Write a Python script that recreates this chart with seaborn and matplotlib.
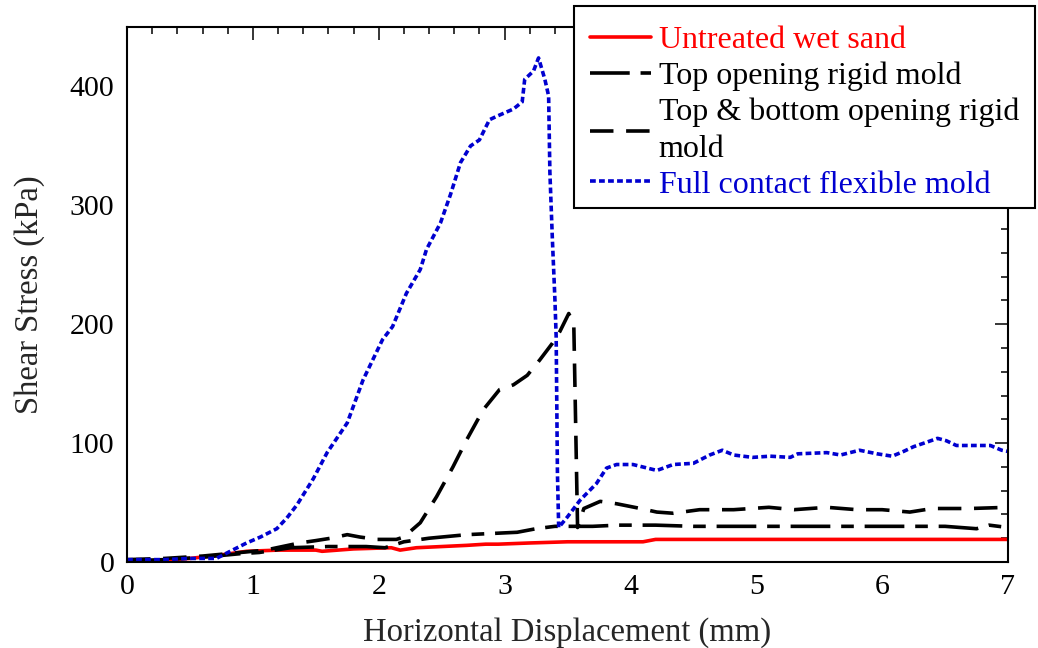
import matplotlib
matplotlib.use("Agg")
import matplotlib.pyplot as plt
import seaborn as sns
from matplotlib.ticker import MultipleLocator
from matplotlib.lines import Line2D
from matplotlib.patches import Rectangle

# ---------------- data ----------------
untreated_x = [0, 0.2, 0.5, 0.75, 0.95, 1.2, 1.5, 1.55, 1.8, 2.1, 2.17, 2.3, 2.5, 2.7,
               2.85, 2.95, 3.2, 3.5, 3.8, 4.1, 4.2, 5.0, 6.0, 7.0]
untreated_y = [0, 1, 3, 6, 9, 10, 10, 9, 11, 12, 10, 12, 13, 14,
               15, 15, 16, 17, 17, 17, 19, 19, 19, 19]

top_x = [0, 0.3, 0.6, 0.9, 1.05, 1.3, 1.6, 1.9, 2.05, 2.2, 2.4, 2.7, 2.9, 3.1, 3.25,
         3.4, 3.7, 3.9, 4.2, 4.5, 5.0, 5.5, 6.0, 6.5, 6.75, 6.85, 7.0]
top_y = [1, 2, 4, 7, 8, 12, 13, 13, 12, 17, 20, 23, 24, 25, 28,
         30, 30, 31, 31, 30, 30, 30, 30, 30, 28, 31, 29]

topbot_x = [0, 0.3, 0.6, 0.9, 1.1, 1.37, 1.5, 1.62, 1.75, 1.85, 1.99, 2.14, 2.2, 2.33,
            2.46, 2.59, 2.70, 2.83, 2.96, 3.07, 3.18, 3.28, 3.38, 3.44, 3.51, 3.55,
            3.58, 3.63, 3.76, 3.89, 4.08, 4.21, 4.34, 4.55, 4.82, 5.1, 5.3, 5.56,
            5.8, 6.0, 6.22, 6.4, 6.7, 7.0]
topbot_y = [2, 3, 5, 8, 10, 16, 18, 20, 23, 21, 19, 19, 21, 33,
            55, 80, 103, 128, 145, 149, 157, 170, 184, 194, 209, 200,
            29, 45, 51, 49, 45, 42, 41, 44, 44, 46, 44, 46,
            44, 44, 42, 45, 45, 46]

flex_x = [0, 0.3, 0.5, 0.71, 0.82, 0.95, 1.06, 1.19, 1.27, 1.35, 1.48, 1.59, 1.75,
          1.875, 2.03, 2.11, 2.22, 2.33, 2.38, 2.49, 2.57, 2.65, 2.73, 2.80, 2.88,
          2.94, 3.07, 3.14, 3.16, 3.23, 3.27, 3.32, 3.35, 3.36, 3.38, 3.40, 3.41,
          3.42, 3.43, 3.50, 3.60, 3.73, 3.81, 3.89, 4.02, 4.21, 4.34, 4.50, 4.63,
          4.73, 4.82, 4.97, 5.11, 5.27, 5.33, 5.56, 5.67, 5.82, 5.96, 6.08, 6.17,
          6.25, 6.36, 6.44, 6.51, 6.59, 6.86, 6.95, 7.0]
flex_y = [2, 2, 3, 3, 9, 16, 21, 28, 37, 48, 70, 92, 117,
          153, 187, 198, 226, 246, 263, 285, 309, 336, 350, 355, 372,
          375, 381, 387, 406, 413, 424, 406, 392, 328, 271, 221, 189,
          75, 29, 38, 52, 66, 79, 82, 82, 77, 82, 83, 90,
          94, 90, 88, 89, 88, 91, 92, 90, 94, 91, 89, 93,
          97, 101, 104, 102, 98, 98, 94, 93]

labels = ["Untreated wet sand", "Top opening rigid mold",
          "Top & bottom opening rigid\nmold", "Full contact flexible mold"]
x_ticks = [0, 1, 2, 3, 4, 5, 6, 7]
y_ticks = [0, 100, 200, 300, 400]

# ---------------- style ----------------
sns.set_theme(style="white")
plt.rcParams["font.family"] = ["Liberation Serif", "DejaVu Serif"]

W, H = 1038, 648
fig = plt.figure(figsize=(W / 100, H / 100), dpi=100)
ax = fig.add_axes([127 / W, 1 - 562 / H, (1008 - 127) / W, (562 - 27) / H])

RED = "#ff0000"
BLUE = "#0000d0"
LW = 2.6
DASHDOT = (11, 3, 3.5, 3)
DASHED = (6.5, 3.5)
DOTTED = (1.6, 0.9)

sns.lineplot(x=untreated_x, y=untreated_y, ax=ax, color=RED, lw=LW,
             estimator=None, sort=False)
sns.lineplot(x=top_x, y=top_y, ax=ax, color="black", lw=LW,
             estimator=None, sort=False)
ax.lines[-1].set_dashes(DASHDOT)
sns.lineplot(x=topbot_x, y=topbot_y, ax=ax, color="black", lw=LW,
             estimator=None, sort=False)
ax.lines[-1].set_dashes(DASHED)
sns.lineplot(x=flex_x, y=flex_y, ax=ax, color=BLUE, lw=LW,
             estimator=None, sort=False)
ax.lines[-1].set_dashes(DOTTED)

ax.set_xlim(0, 7)
ax.set_ylim(0, 450)
ax.set_xticks(x_ticks)
ax.set_yticks(y_ticks)
ax.xaxis.set_minor_locator(MultipleLocator(0.2))
ax.yaxis.set_minor_locator(MultipleLocator(20))
ax.tick_params(which="both", direction="in", top=True, right=True,
               width=1.1, colors="black", labelsize=21.5)
ax.tick_params(which="major", length=9.5, pad=9)
ax.tick_params(which="minor", length=5)
for s in ax.spines.values():
    s.set_color("black")
    s.set_linewidth(1.5)

ax.set_xlabel("Horizontal Displacement (mm)", fontsize=23.5, labelpad=12)
ax.set_ylabel("Shear Stress (kPa)", fontsize=23.5, labelpad=18)

# legend box (drawn as a figure-level rectangle)
fig.patches.append(Rectangle((574 / W, 1 - 208 / H), (1035 - 574) / W, (208 - 6) / H,
                             transform=fig.transFigure, facecolor="white",
                             edgecolor="black", linewidth=1.5, zorder=5))

handles = [Line2D([], [], color=RED, lw=LW),
           Line2D([], [], color="black", lw=LW, dashes=DASHDOT),
           Line2D([], [], color="black", lw=LW, dashes=DASHED),
           Line2D([], [], color=BLUE, lw=LW, dashes=DOTTED)]
leg = fig.legend(handles, labels, loc="upper left",
                 bbox_to_anchor=(590 / W, 1 - 26 / H),
                 bbox_transform=fig.transFigure,
                 fontsize=23, frameon=False, handlelength=1.9, handletextpad=0.25,
                 labelspacing=0.2, borderpad=0, borderaxespad=0)
leg.set_zorder(6)
for t, c in zip(leg.get_texts(), [RED, "black", "black", BLUE]):
    t.set_color(c)
    t.set_linespacing(1.35)

fig.savefig("out.png", dpi=100)
